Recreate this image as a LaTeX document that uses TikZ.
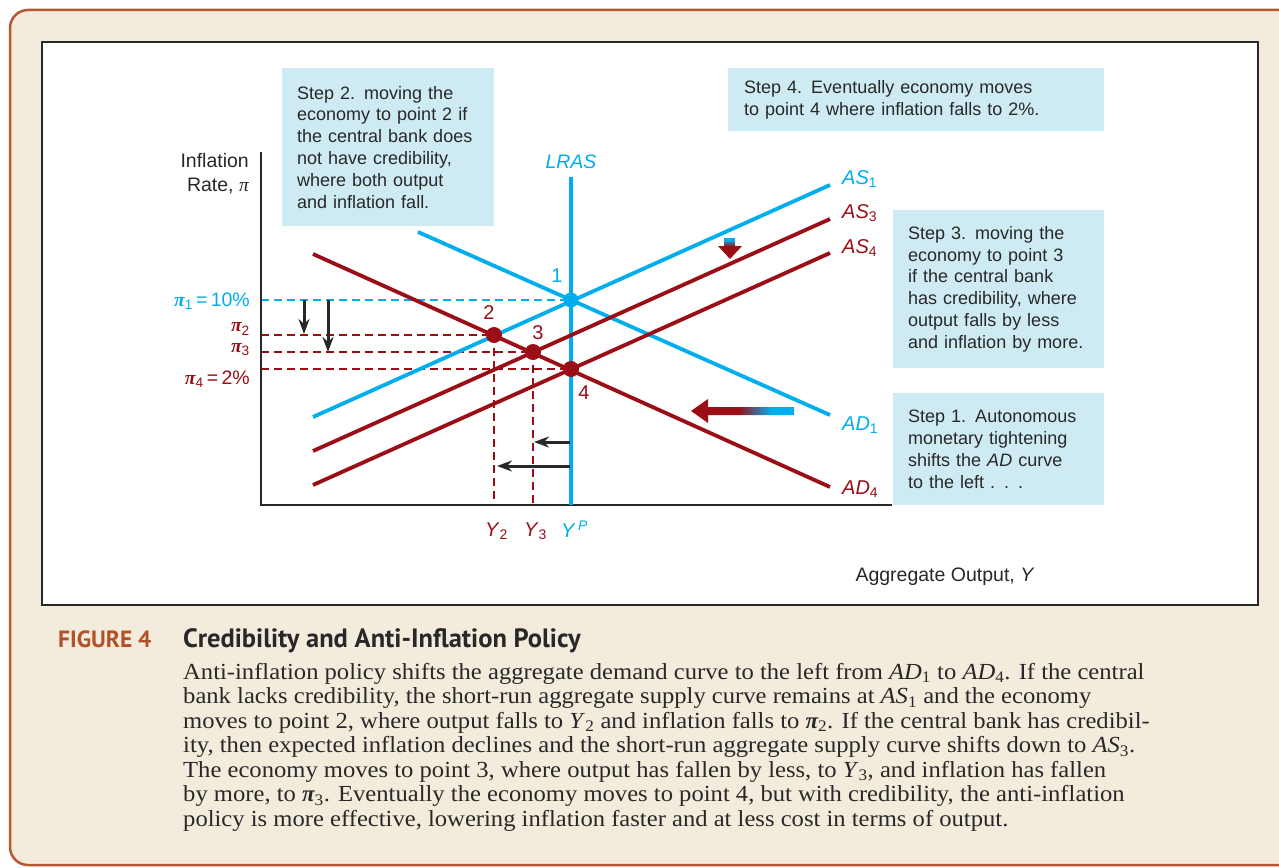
\documentclass[tikz,border=0pt]{standalone}
\usepackage{fontspec}
\setmainfont{Liberation Sans}
\newfontfamily\capfont[FakeStretch=1.07]{Liberation Serif}
\newfontfamily\pifont{Liberation Serif}
\newfontfamily\ttlfont{PT Sans}
\usetikzlibrary{arrows.meta}
\definecolor{lblue}{RGB}{0,174,239}
\definecolor{dred}{RGB}{155,14,22}
\definecolor{boxc}{RGB}{206,235,243}
\definecolor{beige}{RGB}{243,235,220}
\definecolor{framec}{RGB}{183,88,52}
\definecolor{figc}{RGB}{178,80,40}
\definecolor{ink}{RGB}{40,40,40}
\newcommand{\bpi}{{\pifont\bfseries\itshape π}}
\newcommand{\ipi}{{\pifont\itshape π}}
\pgfdeclarehorizontalshading{redblueh}{100bp}{color(0bp)=(dred); color(48bp)=(dred); color(64bp)=(lblue); color(100bp)=(lblue)}
\pgfdeclareverticalshading{redbluev}{100bp}{color(0bp)=(dred); color(56bp)=(dred); color(70bp)=(lblue); color(100bp)=(lblue)}
\begin{document}
\begin{tikzpicture}[x=1pt,y=-1pt,
  curve/.style={line width=3.8pt},
  dline/.style={line width=1.4pt, dash pattern=on 8pt off 5pt},
  blkarrow/.style={line width=3pt, -{Stealth[length=15pt,width=11pt]}, ink},
  stepbox/.style={fill=boxc, draw=none, anchor=north west, align=left, inner xsep=15pt, inner ysep=0pt, font=\fontsize{18}{21.8}\selectfont, text=ink},
  lbl/.style={font=\fontsize{20}{22}\selectfont, inner sep=0pt},
  slbl/.style={font=\fontsize{19.5}{24}\selectfont, inner sep=0pt},
  capline/.style={anchor=base west, inner sep=0pt, text=ink, font=\capfont\fontsize{23}{24.5}\selectfont}
]
\useasboundingbox (0,0) rectangle (1279,867);
% frame
\draw[framec, line width=2.5pt, fill=beige, rounded corners=18pt] (10,10) rectangle (1320,865);
\draw[ink, line width=1.5pt, fill=white] (42,42) rectangle (1258,605);

% coordinates
\coordinate (O) at (261,505);
\coordinate (p1) at (571,300);
\coordinate (p2) at (494,335);
\coordinate (p3) at (533,352);
\coordinate (p4) at (571,369);

% boxes
\node[stepbox, text width=182pt, minimum width=212pt, minimum height=158pt] (s2) at (282,68)
  {Step 2. moving the\\economy to point 2 if\\the central bank does\\not have credibility,\\where both output\\and inflation fall.};
\node[stepbox, inner xsep=16pt, text width=344pt, minimum width=376pt, minimum height=63pt] (s4) at (728,68)
  {Step 4. Eventually economy moves\\to point 4 where inflation falls to 2\%.};
\node[stepbox, text width=181pt, minimum width=211pt, minimum height=158pt] (s3) at (893,210)
  {Step 3. moving the\\economy to point 3\\if the central bank\\has credibility, where\\output falls by less\\and inflation by more.};
\node[stepbox, text width=181pt, minimum width=211pt, minimum height=112pt] (s1) at (893,393)
  {Step 1. Autonomous\\monetary tightening\\shifts the \textit{AD} curve\\to the left . . .};

% dashed guides
\draw[dline, lblue] (O |- p1) -- (p1);
\draw[dline, dred] (O |- p2) -- (p2);
\draw[dline, dred] (O |- p3) -- (p3);
\draw[dline, dred] (O |- p4) -- (p4);
\draw[dline, dred] (p2) -- (p2 |- O);
\draw[dline, dred] (p3) -- (p3 |- O);

% axes
\coordinate (ytop) at (261,152);
\coordinate (xend) at (892,505);
\draw[ink, line width=1.8pt] (ytop) -- (O) -- (xend);

% curves
\coordinate (as1a) at (313,417); \coordinate (as1b) at (830,185);
\coordinate (as3a) at (313,451); \coordinate (as3b) at (830,219);
\coordinate (as4a) at (313,485); \coordinate (as4b) at (830,253);
\coordinate (ad1a) at (418,232); \coordinate (ad1b) at (830,415);
\coordinate (ad4a) at (313,254); \coordinate (ad4b) at (830,487);
\coordinate (lrtop) at (571,177);
\draw[curve, lblue] (lrtop) -- (p1 |- O);
\draw[curve, lblue] (as1a) -- (as1b);
\draw[curve, lblue] (ad1a) -- (ad1b);
\draw[curve, dred] (as3a) -- (as3b);
\draw[curve, dred] (as4a) -- (as4b);
\draw[curve, dred] (ad4a) -- (ad4b);

% points
\fill[lblue] (p1) circle (7.5);
\fill[dred] (p2) circle (8);
\fill[dred] (p3) circle (8);
\fill[dred] (p4) circle (8);
\node[lbl, text=lblue] (n1) at (557,276) {1};
\node[lbl, text=dred] (n2) at (489,313) {2};
\node[lbl, text=dred] (n3) at (538,333) {3};
\node[lbl, text=dred] (n4) at (584,393) {4};

% curve labels
\node[lbl, text=lblue, anchor=west] (las1) at (842,179) {\textit{AS}\textsubscript{1}};
\node[lbl, text=dred, anchor=west] (las3) at (842,213) {\textit{AS}\textsubscript{3}};
\node[lbl, text=dred, anchor=west] (las4) at (842,248) {\textit{AS}\textsubscript{4}};
\node[lbl, text=lblue, anchor=west] (lad1) at (842,425) {\textit{AD}\textsubscript{1}};
\node[lbl, text=dred, anchor=west] (lad4) at (842,489) {\textit{AD}\textsubscript{4}};
\node[slbl, text=lblue] (llras) at (571,162) {\textit{LRAS}};

% axis labels
\node[slbl, text=ink, anchor=east, align=right] (ylab) at (249,174) {Inflation\\Rate, \ipi};
\node[slbl, text=ink] (xlab) at (945,577) {Aggregate Output, \textit{Y}};
\node[slbl, text=lblue, anchor=east] (pi1) at (250,301) {\bpi\textsubscript{1}\,=\,10\%};
\node[slbl, text=dred, anchor=east] (pi2) at (250,329) {\bpi\textsubscript{2}};
\node[slbl, text=dred, anchor=east] (pi3) at (250,350) {\bpi\textsubscript{3}};
\node[slbl, text=dred, anchor=east] (pi4) at (250,379) {\bpi\textsubscript{4}\,=\,2\%};
\node[lbl, text=dred, anchor=west] (y2) at (485,531) {\textit{Y}\textsubscript{2}};
\node[lbl, text=dred, anchor=west] (y3) at (524,531) {\textit{Y}\textsubscript{3}};
\node[lbl, text=lblue, anchor=west] (yp) at (561,529) {\textit{Y}\textsuperscript{\,\textit{P}}};

% black arrows
\coordinate (a1s) at (304,300); \coordinate (a1e) at (304,334);
\coordinate (a2s) at (328,300); \coordinate (a2e) at (328,352);
\coordinate (a3s) at (570,442); \coordinate (a3e) at (534,442);
\coordinate (a4s) at (570,466); \coordinate (a4e) at (497,466);
\draw[blkarrow] (a1s) -- (a1e);
\draw[blkarrow] (a2s) -- (a2e);
\draw[blkarrow] (a3s) -- (a3e);
\draw[blkarrow] (a4s) -- (a4e);

% shaded arrows
\path[shading=redblueh] (794,407) -- (708,407) -- (708,399) -- (691,411) -- (708,423) -- (708,415) -- (794,415) -- cycle;
\path[shading=redbluev] (724,238) -- (735,238) -- (735,246) -- (742,246) -- (730,259) -- (718,246) -- (724,246) -- cycle;

% caption
\node[anchor=base west, inner sep=0pt, text=figc, font=\ttlfont\bfseries\fontsize{23.5}{26}\selectfont] (fig) at (58,647) {FIGURE 4};
\node[anchor=base west, inner sep=0pt, text=ink, font=\ttlfont\bfseries\fontsize{26.5}{28}\selectfont] (ttl) at (183,647) {Credibility and Anti-Inflation Policy};
\node[capline] (c1) at (183,679) {Anti-inflation policy shifts the aggregate demand curve to the left from \textit{AD}\textsubscript{1} to \textit{AD}\textsubscript{4}. If the central};
\node[capline] (c2) at (183,703.5) {bank lacks credibility, the short-run aggregate supply curve remains at \textit{AS}\textsubscript{1} and the economy};
\node[capline] (c3) at (183,728) {moves to point 2, where output falls to \textit{Y}\textsubscript{2} and inflation falls to \bpi\textsubscript{2}. If the central bank has credibil-};
\node[capline] (c4) at (183,752.5) {ity, then expected inflation declines and the short-run aggregate supply curve shifts down to \textit{AS}\textsubscript{3}.};
\node[capline] (c5) at (183,777) {The economy moves to point 3, where output has fallen by less, to \textit{Y}\textsubscript{3}, and inflation has fallen};
\node[capline] (c6) at (183,801.5) {by more, to \bpi\textsubscript{3}. Eventually the economy moves to point 4, but with credibility, the anti-inflation};
\node[capline] (c7) at (183,826) {policy is more effective, lowering inflation faster and at less cost in terms of output.};
\end{tikzpicture}
\end{document}
